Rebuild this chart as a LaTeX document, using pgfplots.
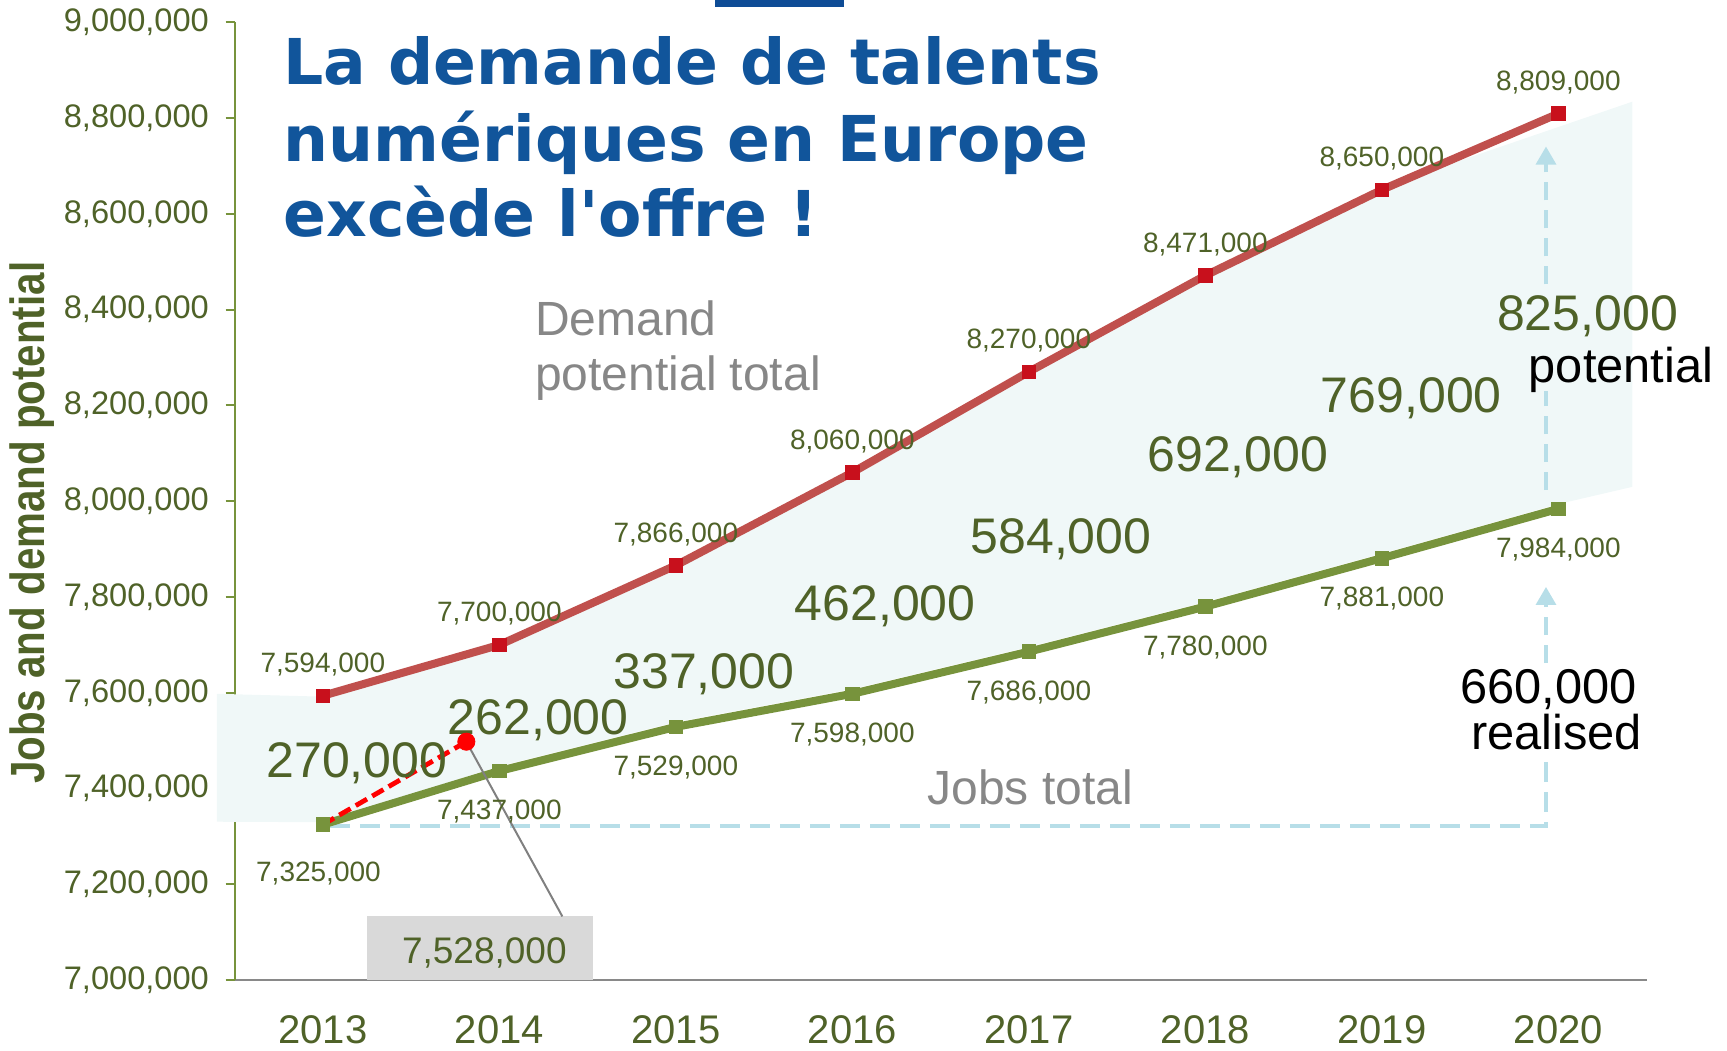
\documentclass[border=0pt]{standalone}
\usepackage{fontspec}
\setmainfont{Liberation Sans}
\newfontfamily\titlefont{DejaVu Sans}
\usepackage{graphicx}
\usepackage{pgfplots}
\pgfplotsset{compat=1.18}
\usetikzlibrary{arrows.meta}

\definecolor{olivedark}{HTML}{4F6228}
\definecolor{olive}{HTML}{77933C}
\definecolor{redline}{HTML}{C0504D}
\definecolor{redmark}{HTML}{C8101C}
\definecolor{fillc}{HTML}{F0F8F8}
\definecolor{dashblue}{HTML}{B7DEE8}
\definecolor{titleblue}{HTML}{11559B}
\definecolor{barblue}{HTML}{0E4C96}
\definecolor{graytext}{HTML}{878787}
\definecolor{boxgray}{HTML}{D9D9D9}
\definecolor{axisgray}{HTML}{898989}

\tikzset{
  lab/.style={anchor=base, font=\fontsize{14}{16}\selectfont, text=olivedark, inner sep=0pt},
  big/.style={anchor=base, font=\fontsize{25}{28}\selectfont, text=olivedark, inner sep=0pt},
  blk/.style={anchor=base, font=\fontsize{24.4}{28}\selectfont, text=black, inner sep=0pt},
  gry/.style={anchor=base west, font=\fontsize{24}{28}\selectfont, text=graytext, inner sep=0pt},
}

\begin{document}
\begin{tikzpicture}
\useasboundingbox (-117.3pt,-34.85pt) rectangle (746.2pt,490.15pt);
\begin{axis}[
  at={(0pt,0pt)}, anchor=south west,
  scale only axis, width=706pt, height=479.1pt,
  xmin=-0.5, xmax=7.5, ymin=7000000, ymax=9000000,
  clip=false,
  axis x line=bottom, axis y line=left,
  x axis line style={draw=axisgray, line width=1pt, -},
  y axis line style={draw=olive, line width=1pt, -},
  xtick={0,1,2,3,4,5,6,7},
  xticklabels={2013,2014,2015,2016,2017,2018,2019,2020},
  x tick style={draw=none},
  ytick={7000000,7200000,7400000,7600000,7800000,8000000,8200000,8400000,8600000,8800000,9000000},
  y tick style={draw=olive, line width=1pt},
  tick align=outside, major tick length=4.5pt,
  scaled y ticks=false,
  /pgf/number format/assume math mode=true,
  yticklabel style={/pgf/number format/fixed, /pgf/number format/precision=0,
    /pgf/number format/1000 sep={,}, font=\fontsize{16.3}{19}\selectfont,
    text=olivedark, anchor=east, inner sep=0pt, xshift=-8.15pt},
  xticklabel style={font=\fontsize{20}{24}\selectfont, text=olivedark,
    anchor=base, inner sep=0pt, yshift=-27.2pt},
]

% light area between series
\addplot[fill=fillc, draw=none] coordinates {
  (-0.6,7598000) (0,7592000) (1,7700000) (2,7866000) (3,8060000) (4,8270000)
  (5,8471000) (6,8655000) (7.42,8834000) (7.42,8030000) (7,7994000) (6,7891000)
  (5,7790000) (4,7696000) (3,7608000) (2,7539000) (1,7447000) (0,7330000) (-0.6,7331000)
} -- cycle;

% grey callout box
\addplot[fill=boxgray, draw=none] coordinates {
  (0.249,7000000) (1.531,7000000) (1.531,7133300) (0.249,7133300)} -- cycle;
\node[anchor=base, font=\fontsize{18.5}{20}\selectfont, text=olivedark, inner sep=0pt]
  at (axis cs:0.915,7035400) {7,528,000};

% light blue dashed guides
\addplot[dashblue, line width=1.6pt, dash pattern=on 10pt off 5pt] coordinates {
  (0.04,7322000) (6.93,7322000) (6.93,7460000)};
\addplot[dashblue, line width=1.6pt, dash pattern=on 9pt off 5pt,
  -{Triangle[length=9pt,width=10pt]}] coordinates {(6.93,7662000) (6.93,7821000)};
\addplot[dashblue, line width=1.6pt, dash pattern=on 9pt off 5pt] coordinates {
  (6.93,8023000) (6.93,8230000)};
\addplot[dashblue, line width=1.6pt, dash pattern=on 9pt off 5pt,
  -{Triangle[length=9pt,width=10pt]}] coordinates {(6.93,8452800) (6.93,8740200)};

% demand potential total
\addplot[color=redline, line width=4pt, mark=square*, mark size=3.4pt,
  mark options={fill=redmark, draw=redmark, line width=0.4pt}] coordinates {
  (0,7594000) (1,7700000) (2,7866000) (3,8060000) (4,8270000) (5,8471000) (6,8650000) (7,8809000)};

% jobs total
\addplot[color=olive, line width=4pt, mark=square*, mark size=3.4pt,
  mark options={fill=olive, draw=olive, line width=0.4pt}] coordinates {
  (0,7325000) (1,7437000) (2,7529000) (3,7598000) (4,7686000) (5,7780000) (6,7881000) (7,7984000)};

% callout line and red dashed
\addplot[color=gray, line width=1pt] coordinates {(0.813,7498000) (1.357,7133300)};
\addplot[color=red, line width=2.4pt, dash pattern=on 6.5pt off 3pt] coordinates {(0,7325000) (0.813,7498000)};
\addplot[only marks, mark=*, mark size=4.3pt, color=red] coordinates {(0.813,7498000)};

% data labels demand
\node[lab, yshift=11.6pt] at (axis cs:0,7594000) {7,594,000};
\node[lab, yshift=11.6pt] at (axis cs:1,7700000) {7,700,000};
\node[lab, yshift=11.6pt] at (axis cs:2,7866000) {7,866,000};
\node[lab, yshift=11.6pt] at (axis cs:3,8060000) {8,060,000};
\node[lab, yshift=11.6pt] at (axis cs:4,8270000) {8,270,000};
\node[lab, yshift=11.6pt] at (axis cs:5,8471000) {8,471,000};
\node[lab, yshift=11.6pt] at (axis cs:6,8650000) {8,650,000};
\node[lab, yshift=11.6pt] at (axis cs:7,8809000) {8,809,000};
% data labels jobs
\node[lab, yshift=-28.6pt, xshift=-2.2pt] at (axis cs:0,7325000) {7,325,000};
\node[lab, yshift=-24.2pt] at (axis cs:1,7437000) {7,437,000};
\node[lab, yshift=-24.2pt] at (axis cs:2,7529000) {7,529,000};
\node[lab, yshift=-24.2pt] at (axis cs:3,7598000) {7,598,000};
\node[lab, yshift=-24.2pt] at (axis cs:4,7686000) {7,686,000};
\node[lab, yshift=-24.2pt] at (axis cs:5,7780000) {7,780,000};
\node[lab, yshift=-24.2pt] at (axis cs:6,7881000) {7,881,000};
\node[lab, yshift=-24.2pt] at (axis cs:7,7984000) {7,984,000};

% gap labels
\node[big] at (axis cs:0.193,7423000) {270,000};
\node[big] at (axis cs:1.220,7513300) {262,000};
\node[big] at (axis cs:2.159,7609900) {337,000};
\node[big] at (axis cs:3.186,7750100) {462,000};
\node[big] at (axis cs:4.182,7890400) {584,000};
\node[big] at (axis cs:5.184,8062800) {692,000};
\node[big] at (axis cs:6.167,8184600) {769,000};
\node[big] at (axis cs:7.165,8357000) {825,000};
\node[blk] at (axis cs:7.355,8248300) {potential};
\node[blk] at (axis cs:6.945,7577700) {660,000};
\node[blk] at (axis cs:6.990,7480900) {realised};

% series names
\node[gry] at (axis cs:1.201,8345000) {Demand};
\node[gry] at (axis cs:1.201,8232000) {potential total};
\node[anchor=base, font=\fontsize{24}{28}\selectfont, text=graytext, inner sep=0pt]
  at (axis cs:4.007,7367800) {Jobs total};

% title
\fill[barblue] (axis cs:2.222,9032200) rectangle (axis cs:2.950,9046000);
\node[anchor=base west, inner sep=0pt, font={\titlefont\bfseries\fontsize{31.6}{38}\selectfont}, text=titleblue]
  at (axis cs:-0.224,8868970) {La demande de talents};
\node[anchor=base west, inner sep=0pt, font={\titlefont\bfseries\fontsize{31.6}{38}\selectfont}, text=titleblue]
  at (axis cs:-0.224,8708045) {numériques en Europe};
\node[anchor=base west, inner sep=0pt, font={\titlefont\bfseries\fontsize{31.6}{38}\selectfont}, text=titleblue]
  at (axis cs:-0.224,8551724) {excède l'offre !};

% y axis label
\node[rotate=90, anchor=center, inner sep=0pt, font=\bfseries\fontsize{24}{28}\selectfont, text=olivedark]
  at (axis cs:-1.649,7955000) {\scalebox{0.84}[1]{Jobs and demand potential}};
\end{axis}
\end{tikzpicture}
\end{document}
